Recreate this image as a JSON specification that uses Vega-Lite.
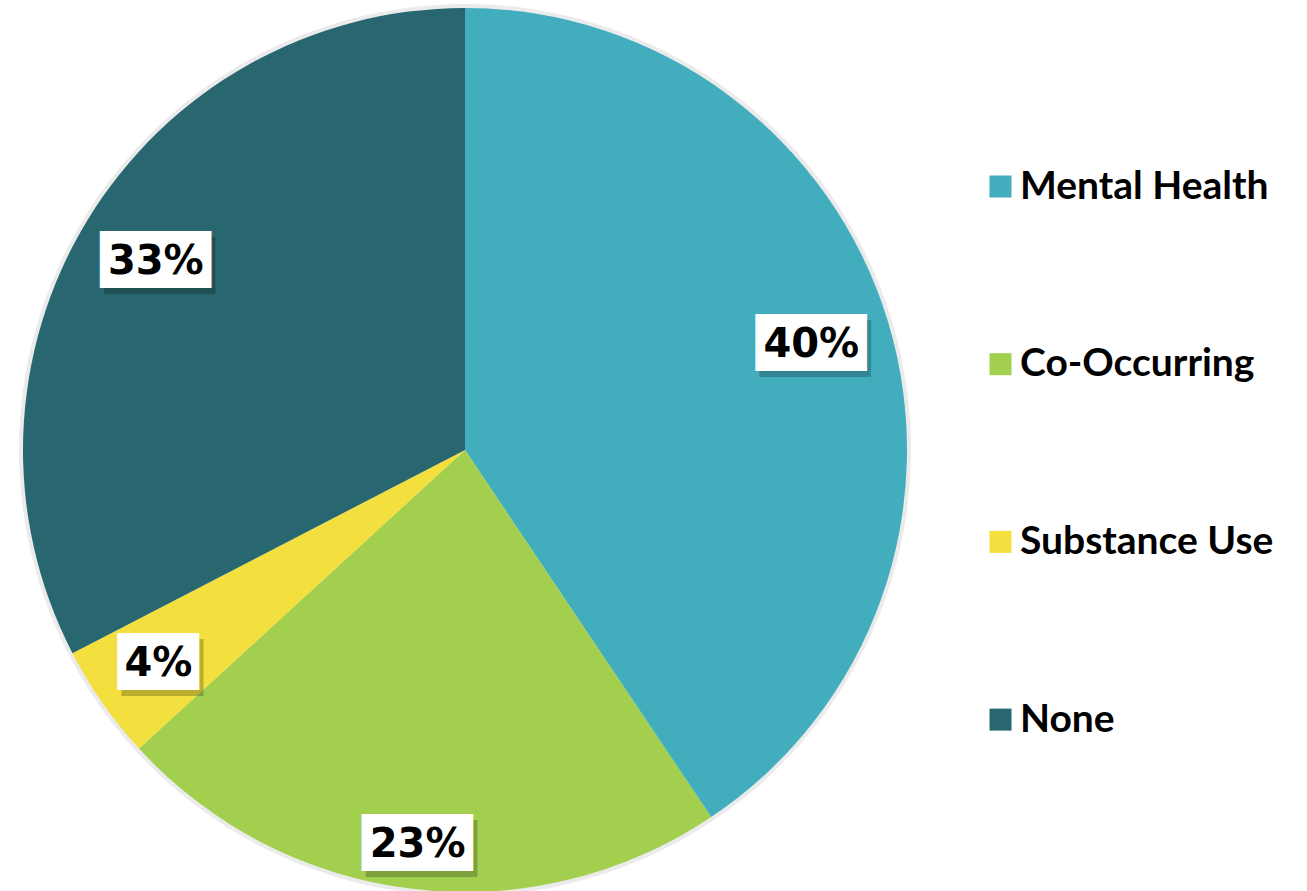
{
  "$schema": "https://vega.github.io/schema/vega-lite/v6.json",
  "width": 930,
  "height": 900,
  "autosize": {"type": "none"},
  "padding": {"left": 0, "top": 0, "right": 377, "bottom": 0},
  "background": "#ffffff",
  "config": {"view": {"stroke": null}},
  "data": {
    "values": [
      {"category": "Mental Health", "value": 40.6, "label": "40%", "ord": 1},
      {"category": "Co-Occurring", "value": 22.6, "label": "23%", "ord": 2},
      {"category": "Substance Use", "value": 4.2, "label": "4%", "ord": 3},
      {"category": "None", "value": 32.6, "label": "33%", "ord": 4}
    ]
  },
  "encoding": {
    "theta": {"field": "value", "type": "quantitative", "stack": true},
    "order": {"field": "ord", "type": "quantitative"}
  },
  "layer": [
    {
      "mark": {"type": "arc", "radius": 446, "color": "#000000", "opacity": 0.08}
    },
    {
      "mark": {"type": "arc", "radius": 442},
      "encoding": {
        "color": {
          "field": "category",
          "type": "nominal",
          "scale": {
            "domain": ["Mental Health", "Co-Occurring", "Substance Use", "None"],
            "range": ["#42ADBD", "#A3CF4E", "#F3DF3D", "#28676F"]
          },
          "legend": {
            "title": null,
            "orient": "none",
            "legendX": 981,
            "legendY": 167,
            "symbolType": "square",
            "symbolSize": 484,
            "symbolStrokeWidth": 0,
            "symbolOpacity": 1,
            "labelFont": "Lato",
            "labelFontSize": 39,
            "labelFontWeight": "bold",
            "labelColor": "#000000",
            "labelOffset": 0,
            "rowPadding": 137.7,
            "labelLimit": 400
          }
        }
      }
    },
    {
      "mark": {"type": "text", "font": "DejaVu Sans", "fontSize": 48, "align": "center", "baseline": "middle", "color": "#000000", "opacity": 0.22, "dx": 4, "dy": 6, "radius": 362},
      "encoding": {
        "text": {"condition": {"test": "datum.category === 'Co-Occurring' || datum.category === 'Substance Use'", "value": ""}, "value": "███"}
      }
    },
    {
      "mark": {"type": "text", "font": "DejaVu Sans", "fontSize": 48, "align": "center", "baseline": "middle", "color": "#000000", "opacity": 0.22, "dx": 4, "dy": 6, "radius": 398},
      "encoding": {
        "text": {"condition": {"test": "datum.category === 'Co-Occurring'", "value": "███"}, "value": ""}
      }
    },
    {
      "mark": {"type": "text", "font": "DejaVu Sans", "fontSize": 48, "align": "center", "baseline": "middle", "color": "#000000", "opacity": 0.22, "dx": 4, "dy": 6, "radius": 374},
      "encoding": {
        "text": {"condition": {"test": "datum.category === 'Substance Use'", "value": "▕██▏"}, "value": ""}
      }
    },
    {
      "mark": {"type": "text", "font": "DejaVu Sans", "fontSize": 48, "align": "center", "baseline": "middle", "color": "#ffffff", "radius": 362},
      "encoding": {
        "text": {"condition": {"test": "datum.category === 'Co-Occurring' || datum.category === 'Substance Use'", "value": ""}, "value": "███"}
      }
    },
    {
      "mark": {"type": "text", "font": "DejaVu Sans", "fontSize": 48, "align": "center", "baseline": "middle", "color": "#ffffff", "radius": 398},
      "encoding": {
        "text": {"condition": {"test": "datum.category === 'Co-Occurring'", "value": "███"}, "value": ""}
      }
    },
    {
      "mark": {"type": "text", "font": "DejaVu Sans", "fontSize": 48, "align": "center", "baseline": "middle", "color": "#ffffff", "radius": 374},
      "encoding": {
        "text": {"condition": {"test": "datum.category === 'Substance Use'", "value": "▕██▏"}, "value": ""}
      }
    },
    {
      "mark": {"type": "text", "font": "DejaVu Sans", "fontSize": 40, "fontWeight": "bold", "align": "center", "baseline": "middle", "color": "#000000", "radius": 362},
      "encoding": {
        "text": {"condition": {"test": "datum.category === 'Co-Occurring' || datum.category === 'Substance Use'", "value": ""}, "field": "label", "type": "nominal"}
      }
    },
    {
      "mark": {"type": "text", "font": "DejaVu Sans", "fontSize": 40, "fontWeight": "bold", "align": "center", "baseline": "middle", "color": "#000000", "radius": 398},
      "encoding": {
        "text": {"condition": {"test": "datum.category !== 'Co-Occurring'", "value": ""}, "field": "label", "type": "nominal"}
      }
    },
    {
      "mark": {"type": "text", "font": "DejaVu Sans", "fontSize": 40, "fontWeight": "bold", "align": "center", "baseline": "middle", "color": "#000000", "radius": 374},
      "encoding": {
        "text": {"condition": {"test": "datum.category !== 'Substance Use'", "value": ""}, "field": "label", "type": "nominal"}
      }
    }
  ]
}
